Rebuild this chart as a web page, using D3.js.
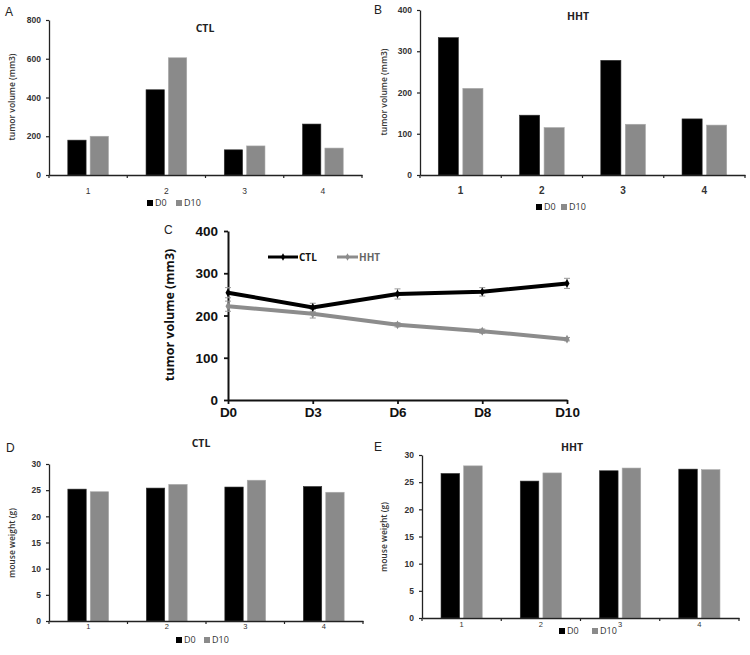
<!DOCTYPE html>
<html><head><meta charset="utf-8">
<script src="https://cdn.jsdelivr.net/npm/d3@7"></script>
<style>
body{margin:0;background:#fff;}
svg{display:block;font-family:"Open Sans","Liberation Sans",sans-serif;}
</style></head>
<body><svg id="c" width="750" height="655"></svg>
<script>
// ---- data ----
const mice = ["1","2","3","4"];
const barSeries = ["D0","D10"];
const ctlVolD0 = [180, 440, 130, 263];
const ctlVolD10 = [200, 605, 150, 139];
const hhtVolD0 = [333, 145, 278, 136];
const hhtVolD10 = [210, 115, 123, 121];
const days = ["D0","D3","D6","D8","D10"];
const ctlMean = [254, 219, 251, 256, 276];
const ctlErr = [12, 10, 12, 10, 12];
const hhtMean = [222, 204, 178, 163, 144];
const hhtErr = [12, 10, 5, 5, 4];
const ctlWtD0 = [25.2, 25.4, 25.6, 25.7];
const ctlWtD10 = [24.7, 26.1, 26.9, 24.6];
const hhtWtD0 = [26.6, 25.2, 27.1, 27.4];
const hhtWtD10 = [28.0, 26.7, 27.6, 27.3];
const volTicksA = [0,200,400,600,800];
const volTicksB = [0,100,200,300,400];
const volTicksC = [0,100,200,300,400];
const wtTicks = [0,5,10,15,20,25,30];

const colors = {D0:"#000000", D10:"#8a8a8a"};
const svg = d3.select("#c");

function letter(t,x,y){
  svg.append("text").attr("x",x).attr("y",y).text(t)
    .attr("font-family","Liberation Sans, Arial, sans-serif").attr("font-size",12).attr("fill","#222");
}

function barPanel(o){
  const g = svg.append("g");
  const x = d3.scaleBand().domain(mice).range([o.x0,o.x1]);
  const y = d3.scaleLinear().domain([0,o.ymax]).range([o.y0,o.y1]);
  const gw = x.bandwidth()*o.gfrac;
  const x1 = d3.scaleBand().domain(barSeries).range([0,gw]).paddingInner(0.18);
  const vals = {D0:o.d0, D10:o.d10};
  mice.forEach((m,i)=>{
    barSeries.forEach(s=>{
      const v = vals[s][i];
      g.append("rect")
        .attr("x", x(m)+x.bandwidth()/2-gw/2+x1(s))
        .attr("y", y(v)).attr("width", x1.bandwidth()).attr("height", y(0)-y(v))
        .attr("fill", colors[s]).attr("stroke", s==="D0"?"#333":"#aaa").attr("stroke-width",0.6);
    });
  });
  // y axis
  const ya = g.append("g").attr("transform",`translate(${o.x0},0)`)
    .call(d3.axisLeft(y).tickValues(o.ticks).tickSize(3).tickSizeOuter(0));
  ya.select(".domain").attr("stroke","#222").attr("stroke-width",1.3);
  ya.selectAll(".tick line").attr("stroke","#222").attr("stroke-width",1.2);
  ya.selectAll("text").attr("font-size",8.5).attr("font-weight",700).attr("fill","#333").attr("dx",-2);
  // x axis
  const xa = g.append("g").attr("transform",`translate(0,${o.y0})`)
    .call(d3.axisBottom(x).tickSize(0).tickPadding(o.tickPad||14));
  xa.select(".domain").attr("stroke","#222").attr("stroke-width",1.3);
  xa.selectAll("text").attr("font-size",o.xfs||8.5).attr("font-weight",o.xfw||400).attr("fill","#333");
  // boundary ticks
  const bounds = mice.map(m=>x(m)).concat([o.x1]);
  g.selectAll(".bt").data(bounds).join("line")
    .attr("x1",d=>d).attr("x2",d=>d).attr("y1",o.y0).attr("y2",o.y0+3)
    .attr("stroke","#222").attr("stroke-width",1.2);
  // title
  g.append("text").attr("x",o.tx).attr("y",o.ty).attr("text-anchor","middle")
    .attr("font-size",10.5).attr("font-weight",700).attr("fill","#222").text(o.title);
  // y label
  g.append("text").attr("transform",`translate(${o.lx},${o.ly}) rotate(-90)`)
    .attr("text-anchor","middle").attr("font-size",8.5).attr("font-weight",600).attr("fill","#333").text(o.ylabel);
  // legend
  barSeries.forEach((s,i)=>{
    const lx = o.legx[i];
    g.append("rect").attr("x",lx).attr("y",o.legy-6).attr("width",6).attr("height",6).attr("fill",colors[s]);
    g.append("text").attr("x",lx+8).attr("y",o.legy).attr("font-size",9).attr("fill","#333").text(s);
  });
}

letter("A",5,16);
barPanel({x0:49,x1:362,y0:175,y1:20,ymax:800,ticks:volTicksA,d0:ctlVolD0,d10:ctlVolD10,gfrac:0.52,
  title:"CTL",tx:205,ty:32,ylabel:"tumor volume (mm3)",lx:15,ly:97,legx:[147,176],legy:206,tickPad:13});
letter("B",374,14);
barPanel({x0:420,x1:745,y0:175,y1:10,ymax:400,ticks:volTicksB,d0:hhtVolD0,d10:hhtVolD10,gfrac:0.55,
  title:"HHT",tx:578,ty:20,ylabel:"tumor volume (mm3)",lx:387,ly:92,legx:[536,561],legy:210,tickPad:12,xfs:10,xfw:700});
letter("D",6,452);
barPanel({x0:49,x1:363,y0:621,y1:464,ymax:30,ticks:wtTicks,d0:ctlWtD0,d10:ctlWtD10,gfrac:0.52,
  title:"CTL",tx:201,ty:447,ylabel:"mouse weight (g)",lx:15,ly:543,legx:[176,204],legy:643,tickPad:3,xfs:7.5});
letter("E",374,451);
barPanel({x0:422,x1:739,y0:618,y1:455,ymax:30,ticks:wtTicks,d0:hhtWtD0,d10:hhtWtD10,gfrac:0.52,
  title:"HHT",tx:572,ty:451,ylabel:"mouse weight (g)",lx:387,ly:537,legx:[559,592],legy:634,tickPad:4,xfs:7.5});

// ---- panel C: line chart ----
(function(){
  const g = svg.append("g");
  const x = d3.scalePoint().domain(days).range([228,567]);
  const y = d3.scaleLinear().domain([0,400]).range([400,231]);
  const ya = g.append("g").attr("transform","translate(228,0)")
    .call(d3.axisLeft(y).tickValues(volTicksC).tickSize(4).tickSizeOuter(0));
  ya.select(".domain").attr("stroke","#111").attr("stroke-width",2);
  ya.selectAll(".tick line").attr("stroke","#111").attr("stroke-width",1.8);
  ya.selectAll("text").attr("font-size",13.5).attr("font-weight",700).attr("fill","#111").attr("dx",-3).attr("dy","0.35em");
  const xa = g.append("g").attr("transform","translate(0,400)")
    .call(d3.axisBottom(x).tickSize(4).tickSizeOuter(0).tickPadding(3));
  xa.select(".domain").attr("stroke","#111").attr("stroke-width",2);
  xa.selectAll(".tick line").attr("stroke","#111").attr("stroke-width",1.8);
  xa.selectAll("text").attr("font-size",13.5).attr("font-weight",700).attr("fill","#111");
  g.append("text").attr("transform","translate(174,315) rotate(-90)").attr("text-anchor","middle")
    .attr("font-size",12.5).attr("font-weight",700).attr("fill","#111").text("tumor volume (mm3)");
  letter("C",164,234);
  const series = [
    {name:"CTL", mean:ctlMean, err:ctlErr, color:"#000000"},
    {name:"HHT", mean:hhtMean, err:hhtErr, color:"#8c8c8c"}
  ];
  const line = d3.line().x((d,i)=>x(days[i])).y(d=>y(d));
  series.slice().reverse().forEach(s=>{
    s.mean.forEach((m,i)=>{
      const cx = x(days[i]);
      g.append("line").attr("x1",cx).attr("x2",cx).attr("y1",y(m-s.err[i])).attr("y2",y(m+s.err[i]))
        .attr("stroke","#999").attr("stroke-width",1);
      [m-s.err[i], m+s.err[i]].forEach(v=>{
        g.append("line").attr("x1",cx-3).attr("x2",cx+3).attr("y1",y(v)).attr("y2",y(v))
          .attr("stroke","#999").attr("stroke-width",1);
      });
    });
    g.append("path").datum(s.mean).attr("d",line).attr("fill","none")
      .attr("stroke",s.color).attr("stroke-width",4);
    s.mean.forEach((m,i)=>{
      g.append("path").attr("d",d3.symbol(d3.symbolDiamond,22)())
        .attr("transform",`translate(${x(days[i])},${y(m)})`).attr("fill",s.color);
    });
  });
  const leg = [{x:268,w:30}, {x:337,w:21}];
  series.forEach((s,i)=>{
    g.append("line").attr("x1",leg[i].x).attr("x2",leg[i].x+leg[i].w).attr("y1",257).attr("y2",257)
      .attr("stroke",s.color).attr("stroke-width",3);
    g.append("path").attr("d",d3.symbol(d3.symbolDiamond,16)())
      .attr("transform",`translate(${leg[i].x+leg[i].w/2},257)`).attr("fill",s.color);
    g.append("text").attr("x",leg[i].x+leg[i].w+1).attr("y",261).attr("font-size",10)
      .attr("font-weight",700).attr("fill",i===0?"#111":"#666").text(s.name);
  });
})();
</script></body></html>
